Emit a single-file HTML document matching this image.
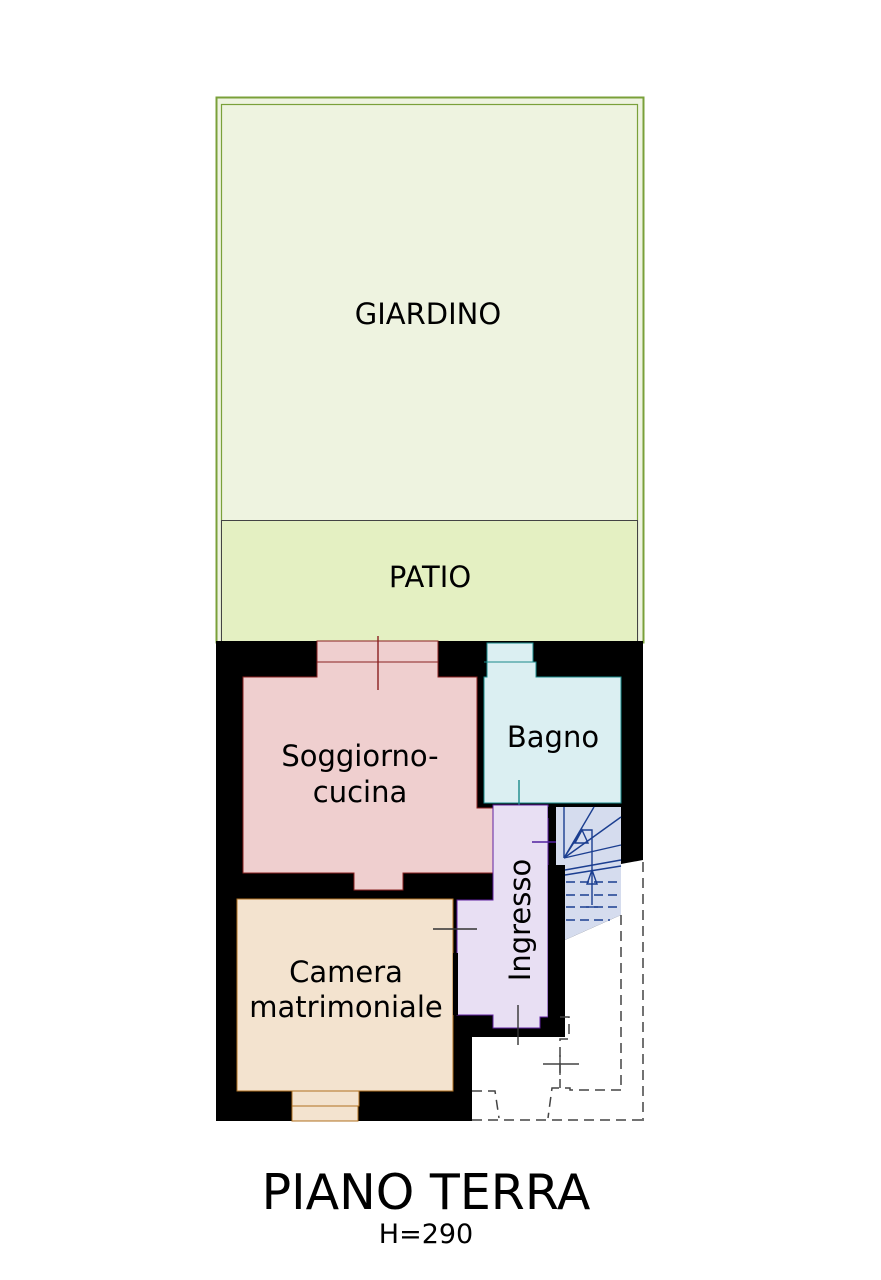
<!DOCTYPE html>
<html><head><meta charset="utf-8"><style>
html,body{margin:0;padding:0;background:#fff;width:881px;height:1280px;overflow:hidden}
svg{display:block}
text{font-family:"DejaVu Sans","Liberation Sans",sans-serif;fill:#000}
</style></head><body>
<svg width="881" height="1280" viewBox="0 0 881 1280">
<!-- garden -->
<rect x="216.5" y="97.5" width="427" height="545" fill="#eef3e0" stroke="#7aa03a" stroke-width="2"/>
<rect x="221.5" y="104.5" width="416" height="537" fill="#eef3e0" stroke="#7aa03a" stroke-width="1.2"/>
<rect x="221.5" y="520.5" width="416" height="121" fill="#e4f0c2" stroke="#444" stroke-width="1"/>
<text x="428" y="324" font-size="29" text-anchor="middle">GIARDINO</text>
<text x="430" y="587" font-size="29" text-anchor="middle">PATIO</text>
<!-- building black -->
<rect x="216" y="641" width="427" height="480" fill="#000"/>
<!-- white lower-right -->
<polygon points="472,1121 472,1037 565,1037 565,940 621,915 621,864 643,860 643,1121" fill="#fff"/>
<!-- soggiorno -->
<polygon points="317,641 438,641 438,677 477,677 477,808 493,808 493,873 403,873 403,890 354,890 354,873 243,873 243,677 317,677" fill="#efcfcf" stroke="#8a2020" stroke-width="1"/>
<line x1="317" y1="662" x2="438" y2="662" stroke="#8a2020" stroke-width="1"/>
<line x1="378" y1="636" x2="378" y2="690" stroke="#8a2020" stroke-width="1.4"/>
<text x="360" y="766" font-size="29" text-anchor="middle">Soggiorno-</text>
<text x="360" y="802" font-size="29" text-anchor="middle">cucina</text>
<!-- bagno -->
<polygon points="487,643 533,643 533,662 536,662 536,677 621,677 621,803 484,803 484,677 487,677" fill="#dbeff2" stroke="#1a8a8a" stroke-width="1"/>
<line x1="484" y1="662" x2="536" y2="662" stroke="#1a8a8a"/>
<line x1="519" y1="780" x2="519" y2="815" stroke="#1a8a8a" stroke-width="1.4"/>
<text x="553" y="747" font-size="29" text-anchor="middle">Bagno</text>
<!-- ingresso -->
<polygon points="493,805 548,805 548,1017 540,1017 540,1028 493,1028 493,1015 457,1015 457,900 493,900" fill="#e8dff3" stroke="#6020a0" stroke-width="1"/>
<line x1="518" y1="1005" x2="518" y2="1045" stroke="#333" stroke-width="1.4"/>
<line x1="532" y1="842" x2="575" y2="842" stroke="#5020a0" stroke-width="1.4"/>
<text transform="translate(530,920) rotate(-90)" font-size="29" text-anchor="middle">Ingresso</text>
<rect x="548" y="807" width="8" height="11" fill="#000"/>
<rect x="548" y="865" width="17" height="172" fill="#000"/>
<!-- stairs -->
<polygon points="556,807 621,807 621,915 565,940 565,865 556,865" fill="#d5dcee"/>
<g stroke="#1b3e90" stroke-width="1.4" fill="none">
<line x1="564" y1="807" x2="564" y2="858"/>
<line x1="564" y1="858" x2="594" y2="807"/>
<line x1="564" y1="858" x2="621" y2="817"/>
<line x1="564" y1="858" x2="621" y2="845"/>
<line x1="564" y1="858" x2="582" y2="830"/>
<line x1="565" y1="870" x2="621" y2="860"/>
<line x1="565" y1="875" x2="621" y2="866"/>
<polyline points="582,830 592,830 592,905"/>
<polygon points="582,830 575,843 588,843"/>
<polygon points="592,870 587,884 597,884"/>
<line x1="566" y1="882" x2="621" y2="882" stroke-dasharray="9,5"/>
<line x1="566" y1="895" x2="621" y2="895" stroke-dasharray="9,5"/>
<line x1="566" y1="907" x2="621" y2="907" stroke-dasharray="9,5"/>
<line x1="586" y1="907" x2="598" y2="907"/>
<line x1="566" y1="920" x2="610" y2="920" stroke-dasharray="9,5"/>
</g>
<!-- dashed lines -->
<g stroke="#444" stroke-width="1.5" fill="none" stroke-dasharray="10,6">
<line x1="643" y1="862" x2="643" y2="1121"/>
<line x1="621" y1="915" x2="621" y2="1090"/>
<line x1="472" y1="1120" x2="643" y2="1120"/>
<polyline points="621,1090 570,1090 570,1088 552,1088 548,1118"/>
<polyline points="472,1091 495,1091 499,1118"/>
<polyline points="560,1017 569,1017 569,1039 560,1039 560,1088"/>
</g>
<g stroke="#444" stroke-width="1.4">
<line x1="543" y1="1064" x2="579" y2="1064"/>
<line x1="560" y1="1055" x2="560" y2="1075"/>
</g>
<!-- camera -->
<polygon points="237,899 453,899 453,1091 358,1091 358,1121 292,1121 292,1091 237,1091" fill="#f3e3cf" stroke="#b07020" stroke-width="1"/>
<rect x="292" y="1091" width="67" height="15" fill="#f3e3cf" stroke="#b07020" stroke-width="1"/>
<rect x="453" y="953" width="5" height="62" fill="#000"/>
<line x1="433" y1="929" x2="477" y2="929" stroke="#333" stroke-width="1.4"/>
<text x="346" y="982" font-size="29" text-anchor="middle">Camera</text>
<text x="346" y="1017" font-size="29" text-anchor="middle">matrimoniale</text>
<!-- title -->
<text x="426" y="1209" font-size="49" text-anchor="middle">PIANO TERRA</text>
<text x="426" y="1243" font-size="27" text-anchor="middle">H=290</text>
</svg>
</body></html>
